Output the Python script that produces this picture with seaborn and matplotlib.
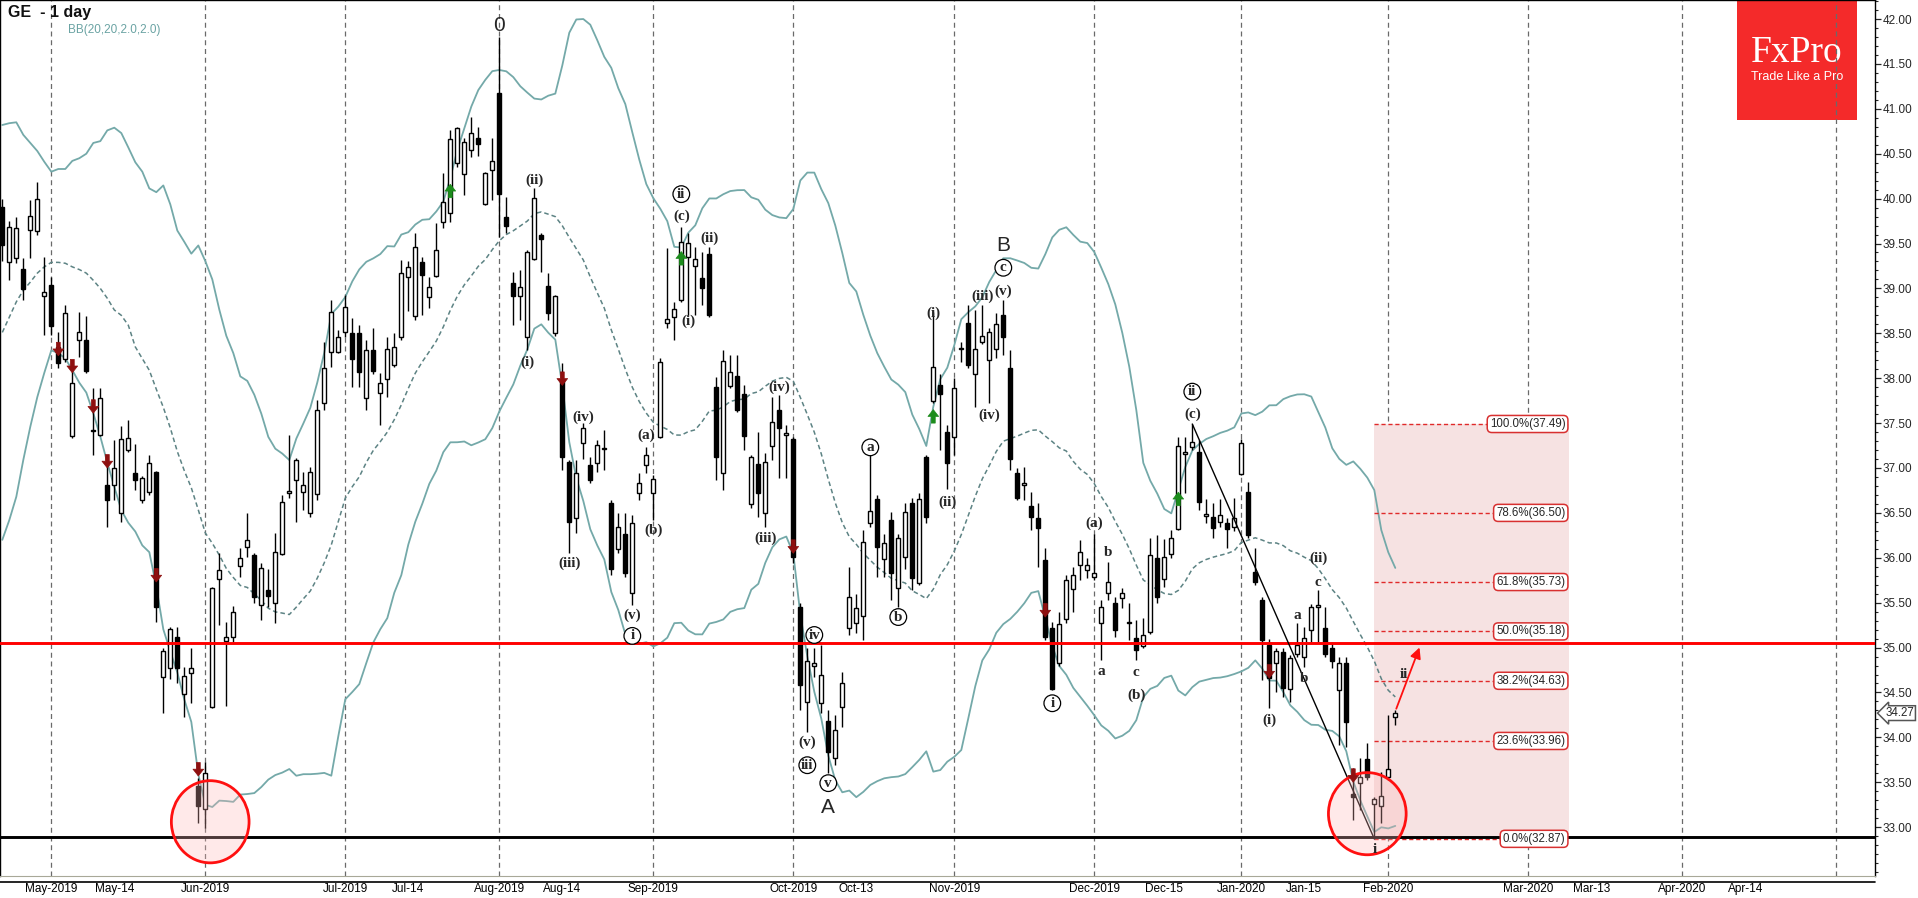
import numpy as np
import pandas as pd
import matplotlib
matplotlib.use("Agg")
import matplotlib.pyplot as plt
import matplotlib.transforms as mtransforms
from matplotlib.patches import Rectangle, Ellipse
import seaborn as sns

# daily OHLC, 22 Apr 2019 .. 4 Feb 2020 (200 sessions)
opens = [39.91, 39.29, 39.34, 39.22, 39.65, 39.64, 38.92, 39.04, 38.35, 38.21,
         37.36, 38.43, 38.43, 37.41, 37.37, 36.81, 36.81, 36.50, 37.20, 36.94,
         36.64, 36.73, 36.96, 34.67, 34.77, 35.12, 34.48, 34.72, 33.46, 33.20,
         34.34, 35.76, 35.07, 35.12, 35.91, 36.12, 36.03, 35.47, 35.64, 35.50,
         36.04, 36.72, 36.87, 36.73, 36.50, 36.71, 37.72, 38.29, 38.29, 38.51,
         38.50, 38.50, 37.78, 38.31, 37.84, 37.99, 38.15, 38.46, 39.13, 38.69,
         39.29, 38.90, 39.14, 39.74, 39.84, 40.40, 40.27, 40.54, 40.67, 39.94,
         40.32, 41.18, 39.79, 39.06, 38.91, 38.46, 39.33, 39.60, 39.03, 38.50,
         37.98, 37.07, 36.44, 37.28, 37.03, 37.06, 37.21, 36.61, 36.10, 36.27,
         35.61, 36.72, 37.03, 36.72, 37.35, 38.61, 38.68, 38.87, 39.35, 39.25,
         39.12, 39.38, 37.90, 36.94, 37.91, 38.02, 37.82, 36.60, 37.04, 36.50,
         37.24, 37.65, 37.37, 37.32, 35.45, 34.39, 34.79, 34.38, 34.18, 33.77,
         34.34, 35.22, 35.27, 35.35, 36.39, 36.65, 35.99, 36.42, 35.66, 36.01,
         36.61, 35.72, 37.12, 37.75, 37.92, 37.40, 37.35, 38.32, 38.61, 38.05,
         38.40, 38.20, 38.32, 38.70, 38.11, 36.94, 36.81, 36.58, 36.44, 35.98,
         35.22, 34.83, 35.32, 35.65, 35.92, 35.86, 35.79, 35.27, 35.61, 35.50,
         35.55, 35.27, 35.11, 35.02, 35.17, 36.00, 35.76, 36.04, 36.32, 37.16,
         37.23, 37.18, 36.47, 36.45, 36.40, 36.39, 36.34, 36.93, 36.73, 35.84,
         35.53, 35.03, 34.83, 34.95, 34.54, 34.93, 34.90, 35.20, 35.45, 35.22,
         35.00, 34.53, 34.83, 33.37, 33.49, 33.76, 33.26, 33.24, 33.56, 34.23]
highs = [40.00, 39.75, 39.80, 39.34, 39.98, 40.19, 39.35, 39.13, 38.51, 38.82,
         38.09, 38.74, 38.69, 37.89, 37.89, 37.06, 37.31, 37.47, 37.53, 37.27,
         36.91, 37.14, 36.97, 35.00, 35.23, 35.23, 34.78, 35.00, 33.55, 33.73,
         35.67, 36.05, 35.29, 35.46, 36.11, 36.50, 36.05, 35.94, 35.87, 36.28,
         36.70, 37.37, 37.11, 36.96, 37.01, 37.76, 38.40, 38.87, 38.54, 38.93,
         38.67, 38.59, 38.42, 38.56, 38.06, 38.46, 38.50, 39.32, 39.31, 39.62,
         39.35, 39.13, 39.73, 40.28, 40.76, 40.80, 40.67, 40.91, 40.80, 40.30,
         40.67, 41.80, 40.02, 39.18, 39.21, 39.43, 40.12, 39.62, 39.17, 38.93,
         38.17, 37.09, 37.09, 37.50, 37.12, 37.31, 37.42, 36.64, 36.50, 36.50,
         36.48, 36.94, 37.23, 36.92, 38.22, 39.45, 38.85, 39.68, 39.62, 39.46,
         39.41, 39.46, 38.01, 38.31, 38.26, 38.26, 37.92, 37.15, 37.40, 37.17,
         37.79, 37.81, 37.48, 37.35, 35.50, 35.00, 35.00, 35.03, 34.30, 34.25,
         34.73, 35.90, 35.60, 36.31, 37.14, 36.70, 36.27, 36.51, 36.27, 36.61,
         36.67, 36.72, 37.14, 38.74, 38.05, 37.48, 38.00, 38.40, 38.82, 38.76,
         38.82, 38.56, 38.73, 38.87, 38.31, 37.00, 37.01, 36.73, 36.61, 36.11,
         35.29, 35.40, 35.81, 35.90, 36.20, 36.00, 36.27, 35.53, 35.95, 35.56,
         35.66, 35.50, 35.31, 35.33, 36.22, 36.25, 36.21, 36.31, 37.35, 37.34,
         37.49, 37.31, 36.66, 36.61, 36.66, 36.44, 36.67, 37.32, 36.84, 36.11,
         35.56, 35.10, 35.00, 35.00, 34.92, 35.27, 35.23, 35.48, 35.64, 35.45,
         35.06, 34.89, 34.89, 33.66, 33.77, 33.94, 33.34, 33.61, 34.25, 34.30]
lows = [39.30, 39.09, 39.28, 38.87, 39.34, 39.60, 38.48, 38.48, 38.11, 38.18,
        37.33, 38.24, 38.06, 37.14, 37.36, 36.34, 36.64, 36.40, 37.18, 36.76,
        36.61, 36.70, 35.29, 34.27, 34.65, 34.61, 34.23, 34.38, 33.05, 32.99,
        34.33, 35.25, 34.35, 35.06, 35.79, 36.01, 35.50, 35.31, 35.45, 35.27,
        36.03, 36.67, 36.40, 36.53, 36.45, 36.64, 37.65, 38.12, 38.28, 38.46,
        37.90, 37.90, 37.65, 38.05, 37.48, 37.79, 38.12, 38.42, 38.75, 38.65,
        38.70, 38.78, 39.13, 39.67, 39.74, 40.35, 40.04, 40.46, 40.47, 39.93,
        39.98, 39.57, 39.62, 38.59, 38.65, 38.31, 39.32, 39.18, 38.65, 38.47,
        36.98, 36.05, 36.28, 37.10, 36.83, 36.96, 36.98, 35.81, 36.05, 35.79,
        35.47, 36.64, 36.94, 36.42, 37.33, 38.56, 38.42, 38.85, 38.70, 38.70,
        38.81, 38.68, 36.87, 36.76, 37.89, 37.62, 37.20, 36.55, 36.45, 36.34,
        37.09, 36.89, 36.89, 35.94, 34.31, 34.06, 34.67, 34.27, 33.60, 33.69,
        34.12, 35.14, 35.16, 35.08, 36.34, 35.79, 35.79, 35.53, 35.45, 35.87,
        35.64, 35.70, 36.39, 37.72, 37.20, 36.77, 37.14, 38.18, 38.11, 37.68,
        38.38, 37.72, 38.22, 38.26, 36.98, 36.64, 36.64, 36.31, 35.90, 35.08,
        34.53, 34.80, 35.27, 35.40, 35.75, 35.77, 35.75, 34.86, 35.53, 35.12,
        35.44, 35.08, 34.86, 35.00, 35.15, 35.50, 35.68, 36.00, 36.31, 36.72,
        37.20, 36.53, 36.39, 36.22, 36.34, 36.11, 36.30, 36.92, 36.22, 35.70,
        34.64, 34.33, 34.50, 34.45, 34.39, 34.89, 34.78, 35.06, 35.06, 34.89,
        34.77, 33.92, 33.89, 33.08, 33.19, 33.53, 32.87, 33.05, 33.52, 34.14]
closes = [39.48, 39.68, 39.67, 38.99, 39.81, 40.00, 38.96, 38.58, 38.17, 38.73,
          37.95, 38.51, 38.08, 37.42, 37.78, 36.64, 37.00, 37.32, 37.33, 36.87,
          36.89, 37.06, 35.45, 34.96, 35.21, 34.77, 34.68, 34.77, 33.24, 33.60,
          35.66, 35.86, 35.12, 35.40, 36.00, 36.20, 35.56, 35.89, 35.57, 36.06,
          36.62, 36.74, 37.09, 36.81, 36.96, 37.65, 38.11, 38.74, 38.46, 38.79,
          38.21, 38.07, 38.31, 38.08, 37.95, 38.32, 38.35, 39.17, 39.24, 39.46,
          39.15, 39.02, 39.43, 39.96, 40.66, 40.79, 40.63, 40.73, 40.61, 40.29,
          40.42, 40.05, 39.69, 38.92, 39.02, 39.41, 40.01, 39.55, 38.73, 38.92,
          37.12, 36.40, 36.94, 37.44, 36.87, 37.26, 37.22, 35.88, 36.34, 35.83,
          36.39, 36.83, 37.14, 36.88, 38.18, 38.66, 38.77, 39.52, 39.51, 39.33,
          39.00, 38.70, 37.12, 38.19, 38.07, 37.65, 37.36, 37.12, 36.72, 37.07,
          37.51, 37.45, 37.38, 36.01, 34.58, 34.85, 34.83, 34.69, 33.84, 34.08,
          34.60, 35.56, 35.44, 36.18, 36.52, 36.12, 36.16, 35.83, 36.22, 36.51,
          35.78, 36.65, 36.45, 38.12, 37.82, 37.06, 37.89, 38.33, 38.15, 38.32,
          38.47, 38.51, 38.60, 38.46, 37.10, 36.67, 36.83, 36.45, 36.33, 35.12,
          34.54, 35.26, 35.75, 35.81, 36.06, 35.92, 35.83, 35.45, 35.73, 35.20,
          35.61, 35.28, 34.97, 35.14, 36.03, 35.56, 36.01, 36.22, 37.24, 37.17,
          37.29, 36.62, 36.49, 36.33, 36.48, 36.32, 36.44, 37.28, 36.25, 35.73,
          35.08, 34.66, 34.96, 34.55, 34.88, 35.03, 35.11, 35.45, 35.47, 34.93,
          34.85, 34.83, 34.17, 33.34, 33.56, 33.56, 33.31, 33.35, 33.65, 34.27]

# BB(20) values for the first 19 sessions (window still filling)
bb_upper_head = [40.82, 40.84, 40.85, 40.71, 40.62, 40.53, 40.41, 40.30, 40.33, 40.33,
                 40.42, 40.45, 40.50, 40.62, 40.64, 40.76, 40.79, 40.73, 40.57]
bb_mid_head = [38.51, 38.68, 38.85, 38.98, 39.07, 39.17, 39.24, 39.29, 39.29, 39.28,
               39.24, 39.21, 39.17, 39.09, 39.00, 38.89, 38.76, 38.70, 38.59]
bb_lower_head = [36.20, 36.42, 36.68, 37.09, 37.46, 37.79, 38.06, 38.31, 38.28, 38.22,
                 38.09, 37.95, 37.84, 37.61, 37.35, 37.06, 36.79, 36.53, 36.39]

holidays = ['2019-05-27', '2019-07-04', '2019-09-02', '2019-11-28',
            '2019-12-25', '2020-01-01', '2020-01-20']
mid_month_ticks = {'2019-05-14': 'May-14', '2019-07-14': 'Jul-14', '2019-08-14': 'Aug-14',
                   '2019-10-13': 'Oct-13', '2019-12-15': 'Dec-15', '2020-01-15': 'Jan-15',
                   '2020-03-13': 'Mar-13', '2020-04-14': 'Apr-14'}

fib_pct = ['100.0', '78.6', '61.8', '50.0', '38.2', '23.6', '0.0']
fib_price = [37.49, 36.50, 35.73, 35.18, 34.63, 33.96, 32.87]

resistance = 35.05
support = 32.89

# wave counts: (session, price, text, kind)
waves = [
    (71, 41.93, '0', 'big'), (76, 40.21, '(ii)', 'p'), (75, 38.18, '(i)', 'p'),
    (81, 35.94, '(iii)', 'p'), (83, 37.57, '(iv)', 'p'), (92, 37.36, '(a)', 'p'),
    (93, 36.31, '(b)', 'p'), (90, 35.36, '(v)', 'p'), (90, 35.13, 'i', 'c'),
    (97, 40.05, 'ii', 'c'), (97, 39.80, '(c)', 'p'), (98, 38.63, '(i)', 'p'),
    (101, 39.56, '(ii)', 'p'), (111, 37.90, '(iv)', 'p'), (109, 36.22, '(iii)', 'p'),
    (124, 37.23, 'a', 'c'), (128, 35.34, 'b', 'c'), (116, 35.14, 'iv', 'c'),
    (115, 33.94, '(v)', 'p'), (115, 33.69, 'iii', 'c'), (118, 33.49, 'v', 'c'),
    (118, 33.22, 'A', 'big'), (133, 38.72, '(i)', 'p'), (135, 36.62, '(ii)', 'p'),
    (140, 38.91, '(iii)', 'p'), (141, 37.59, '(iv)', 'p'), (143, 38.97, '(v)', 'p'),
    (143, 39.23, 'c', 'c'), (143, 39.48, 'B', 'big'), (150, 34.38, 'i', 'c'),
    (156, 36.38, '(a)', 'p'), (158, 36.06, 'b', 'p'), (157, 34.73, 'a', 'p'),
    (162, 34.72, 'c', 'p'), (162, 34.47, '(b)', 'p'), (170, 37.85, 'ii', 'c'),
    (170, 37.60, '(c)', 'p'), (181, 34.19, '(i)', 'p'), (188, 35.99, '(ii)', 'p'),
    (188, 35.73, 'c', 'p'), (185, 35.36, 'a', 'p'), (186, 34.66, 'b', 'p'),
    (196, 32.75, 'i', 'p'), (200.2, 34.70, 'ii', 'p'),
]
sell_signals = [(8, 38.31), (10, 38.12), (13, 37.67), (15, 37.06), (22, 35.79), (28, 33.63),
                (80, 37.98), (113, 36.11), (149, 35.40), (181, 34.72), (193, 33.56)]
buy_signals = [(64, 40.10), (97, 39.35), (133, 37.59), (168, 36.67)]

# ---------------------------------------------------------------- calendar
days = pd.bdate_range('2019-04-22', '2020-02-04')
days = days[~days.isin(pd.to_datetime(holidays))]
calendar = days.append(pd.bdate_range('2020-02-05', '2020-05-29'))

df = pd.DataFrame({'Open': opens, 'High': highs, 'Low': lows, 'Close': closes})
df['x'] = np.arange(len(df))
mid = df['Close'].rolling(20).mean()
sd = df['Close'].rolling(20).std(ddof=0)
df['Upper'] = mid + 2 * sd
df['Mid'] = mid
df['Lower'] = mid - 2 * sd
n0 = len(bb_mid_head)
df.loc[:n0 - 1, 'Upper'] = bb_upper_head
df.loc[:n0 - 1, 'Mid'] = bb_mid_head
df.loc[:n0 - 1, 'Lower'] = bb_lower_head

sns.set_style('white')
sans = ['Liberation Sans', 'DejaVu Sans']
serif = ['Liberation Serif', 'DejaVu Serif']
plt.rcParams['font.family'] = sans

fig = plt.figure(figsize=(19.18, 8.98), dpi=100)
ax = fig.add_axes([0, 22 / 898, 1875 / 1918, 876 / 898])
ax.set_xlim(-0.33, 267.53)
ax.set_ylim(32.456, 42.212)

# month grid + date axis
months = pd.Series(np.arange(len(calendar)), index=calendar)
first_days = months.groupby([calendar.year, calendar.month]).first()
tick_pos, tick_lab = [], []
for (yr, mo), pos in first_days.items():
    if pos == 0:
        continue
    ax.axvline(pos, color='#6a6a6a', lw=0.9, ls=(0, (4, 3)), zorder=0.5)
    if pos < 255:
        tick_pos.append(pos)
        tick_lab.append(calendar[pos].strftime('%b-%Y'))
for d, lab in mid_month_ticks.items():
    tick_pos.append(int(calendar.searchsorted(pd.Timestamp(d))))
    tick_lab.append(lab)

# fib zone
ax.add_patch(Rectangle((195.9, fib_price[-1]), 27.9, fib_price[0] - fib_price[-1],
                       facecolor='#f6e2e2', edgecolor='none', zorder=0.6))

# Bollinger bands
sns.lineplot(data=df, x='x', y='Upper', ax=ax, color='#74a9a9', lw=1.3, zorder=1)
sns.lineplot(data=df, x='x', y='Lower', ax=ax, color='#74a9a9', lw=1.3, zorder=1)
sns.lineplot(data=df, x='x', y='Mid', ax=ax, color='#5d8384', lw=1.1, zorder=1,
             linestyle=(0, (3, 2)))

# candles
o, h, l, c = (df[k].to_numpy() for k in ['Open', 'High', 'Low', 'Close'])
x = df['x'].to_numpy()
up = c >= o
body = np.maximum(np.abs(c - o), 0.018)
bottom = np.minimum(o, c)
ax.vlines(x, l, h, color='black', lw=1.0, zorder=3)
ax.bar(x[up], body[up], bottom=bottom[up], width=0.6, color='white',
       edgecolor='black', lw=1.0, zorder=3.1)
ax.bar(x[~up], body[~up], bottom=bottom[~up], width=0.6, color='black',
       edgecolor='black', lw=1.0, zorder=3.1)

# levels
ax.axhline(resistance, color='#ff0000', lw=2.1, zorder=3.5)
ax.axhline(support, color='black', lw=2.1, zorder=3.5)

# fib levels
for pct, pr in zip(fib_pct, fib_price):
    ax.plot([195.9, 222.0], [pr, pr], color='#e02a2a', lw=1.0, ls=(0, (3, 2)), zorder=2)
    ax.text(223.3, pr, f'{pct}%({pr:.2f})', ha='right', va='center', fontsize=8.3,
            zorder=6, bbox=dict(boxstyle='round,pad=0.22,rounding_size=0.4',
                                fc='white', ec='#d83030', lw=1.1))

# trend line and projection
ax.plot([170, 196], [37.49, 32.87], color='black', lw=1.0, zorder=3.6)
ax.annotate('', xy=(202.6, 35.03), xytext=(199, 34.29),
            arrowprops=dict(arrowstyle='-|>', color='#ff1010', lw=1.3, mutation_scale=16),
            zorder=5)

# circles
for cx, cy in [(29.7, 33.06), (195.0, 33.15)]:
    ax.add_patch(Ellipse((cx, cy), 11.1, 0.915, facecolor=(1, 0.72, 0.72, 0.3),
                         edgecolor='#ff1010', lw=2.0, zorder=4))

# signal arrows
arrow_style = 'simple,head_width=1.1,head_length=0.7,tail_width=0.4'
for sx, sy in sell_signals:
    ax.annotate('', xy=(sx, sy - 0.06), xytext=(sx, sy + 0.09),
                arrowprops=dict(arrowstyle=arrow_style, fc='#8e1010', ec='#8e1010',
                                lw=0.5, mutation_scale=7, shrinkA=0, shrinkB=0),
                zorder=5)
for bx, by in buy_signals:
    ax.annotate('', xy=(bx, by + 0.06), xytext=(bx, by - 0.09),
                arrowprops=dict(arrowstyle=arrow_style, fc='#1c8c1c', ec='#1c8c1c',
                                lw=0.5, mutation_scale=7, shrinkA=0, shrinkB=0),
                zorder=5)

# wave labels
for wx, wy, txt, kind in waves:
    if kind == 'big':
        ax.text(wx, wy, txt, ha='center', va='center', fontsize=15, zorder=6)
    elif kind == 'c':
        ax.text(wx, wy, txt, ha='center', va='center', fontsize=11, family=serif,
                fontweight='bold', zorder=6,
                bbox=dict(boxstyle='circle,pad=0.12', fc='white', ec='black', lw=0.9))
    else:
        ax.text(wx, wy, txt, ha='center', va='center', fontsize=11, family=serif,
                fontweight='bold', zorder=6)

# axes cosmetics
for s in ['top', 'left', 'right']:
    ax.spines[s].set_color('black')
    ax.spines[s].set_linewidth(1.0)
ax.spines['bottom'].set_color('#a8a898')
ax.set_xticks(tick_pos)
ax.set_xticklabels(tick_lab)
ax.tick_params(axis='x', direction='out', length=3.6, width=0.9, pad=1.5,
               labelsize=8.5, colors='black')
ax.plot([0, 1], [-5.5 / 876] * 2, transform=ax.transAxes, color='black', lw=1.2,
        clip_on=False)

ax.yaxis.tick_right()
ax.set_yticks(np.arange(33.0, 42.01, 0.5))
ax.set_yticks(np.arange(32.5, 42.21, 0.1), minor=True)
ax.yaxis.set_major_formatter(matplotlib.ticker.FormatStrFormatter('%.2f'))
ax.tick_params(axis='y', which='major', direction='out', length=4, width=0.9,
               pad=1.5, labelsize=8.5)
ax.tick_params(axis='y', which='minor', direction='out', length=2.2, width=0.8)
ax.set_xlabel('')
ax.set_ylabel('')

# last price tag
trans = mtransforms.blended_transform_factory(ax.transAxes, ax.transData)
ax.text(1.0055, closes[-1], f'{closes[-1]:.2f}', transform=trans, ha='left', va='center',
        fontsize=8.3, zorder=7, clip_on=False,
        bbox=dict(boxstyle='larrow,pad=0.12', fc='white', ec='#555555', lw=1.1))

# header texts
ax.text(8 / 1875, 1 - 13 / 876, 'GE  - 1 day', transform=ax.transAxes, ha='left',
        va='center', fontsize=11.5, fontweight='bold', color='#111111')
ax.text(68 / 1875, 1 - 30 / 876, 'BB(20,20,2.0,2.0)', transform=ax.transAxes, ha='left',
        va='center', fontsize=8.5, color='#6aa3a3')

# logo
ax.add_patch(Rectangle((1737 / 1875, 1 - 120 / 876), 120 / 1875, 120 / 876,
                       transform=ax.transAxes, facecolor='#f42a2a', edgecolor='none',
                       zorder=0.2))
ax.text(1797 / 1875, 1 - 53 / 876, 'FxPro', transform=ax.transAxes, ha='center',
        va='center', fontsize=27, color='white', family=serif, zorder=0.3)
ax.text(1797 / 1875, 1 - 77 / 876, 'Trade Like a Pro', transform=ax.transAxes,
        ha='center', va='center', fontsize=9, color='white', zorder=0.3)

fig.savefig('out.png', dpi=100)
